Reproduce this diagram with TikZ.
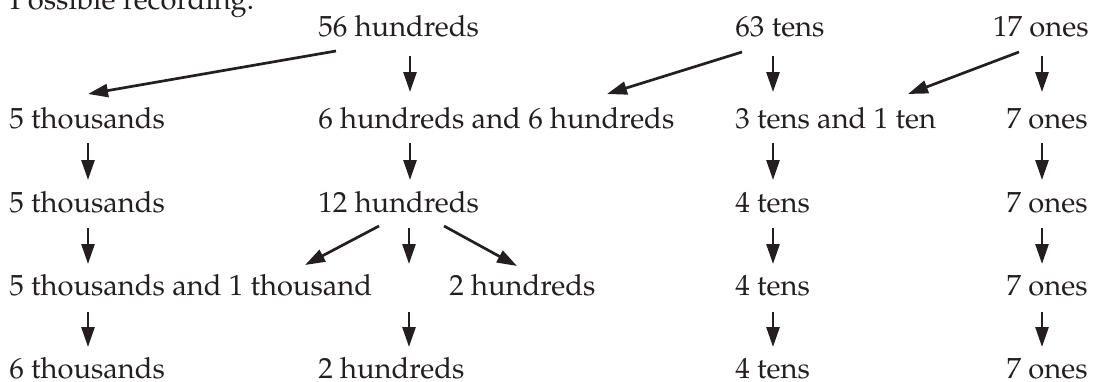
\documentclass[tikz,border=0pt]{standalone}
\usepackage[T1]{fontenc}
\renewcommand{\rmdefault}{ppl}
\usetikzlibrary{arrows.meta,calc}
\definecolor{ink}{RGB}{35,31,32}
\begin{document}
\begin{tikzpicture}[x=0.5pt,y=-0.5pt,
  lbl/.style={inner sep=0pt, text=ink, font=\fontsize{14.55pt}{17pt}\selectfont},
  arr/.style={draw=ink, line width=1.35pt, -{Triangle[length=10pt,width=6.5pt]}}]
\useasboundingbox (0,0) rectangle (1096,381);
% texts
\node[lbl,anchor=base west] (title) at (10,9) {Possible recording:};
\node[lbl,anchor=base west] (r0b) at (318,36) {56 hundreds};
\node[lbl,anchor=base west] (r0c) at (735,36) {63 tens};
\node[lbl,anchor=base east] (r0d) at (1089,36) {17 ones};
\node[lbl,anchor=base west] (r1a) at (9,128) {5 thousands};
\node[lbl,anchor=base west] (r1b) at (318,128) {6 hundreds and 6 hundreds};
\node[lbl,anchor=base west] (r1c) at (735,128) {3 tens and 1 ten};
\node[lbl,anchor=base east] (r1d) at (1088,128) {7 ones};
\node[lbl,anchor=base west] (r2a) at (9,212) {5 thousands};
\node[lbl,anchor=base west] (r2b) at (318,212) {12 hundreds};
\node[lbl,anchor=base west] (r2c) at (735,212) {4 tens};
\node[lbl,anchor=base east] (r2d) at (1088,212) {7 ones};
\node[lbl,anchor=base west] (r3a) at (9,295) {5 thousands and 1 thousand};
\coordinate (r3m) at (409,295);
\node[lbl,anchor=base west] (r3b) at (449,295) {2 hundreds};
\node[lbl,anchor=base west] (r3c) at (735,295) {4 tens};
\node[lbl,anchor=base east] (r3d) at (1088,295) {7 ones};
\node[lbl,anchor=base west] (r4a) at (9,378) {6 thousands};
\node[lbl,anchor=base west] (r4b) at (318,378) {2 hundreds};
\node[lbl,anchor=base west] (r4c) at (735,378) {4 tens};
\node[lbl,anchor=base east] (r4d) at (1088,378) {7 ones};
% row 0 -> row 1
\draw[arr] ($(r0b.base west)+(18,15)$) -- ($(r1a.base west)+(79,-34)$);
\draw[arr] ($(r0b.base west)+(92,20)$) -- ($(r1b.base west)+(92,-36)$);
\draw[arr] ($(r0c.base west)+(7,16)$) -- ($(r1b.base west)+(289,-34)$);
\draw[arr] ($(r0c.base west)+(38,20)$) -- ($(r1c.base west)+(38,-36)$);
\draw[arr] ($(r0d.base east)+(-70,16)$) -- ($(r1c.base west)+(173,-34)$);
\draw[arr] ($(r0d.base east)+(-47,20)$) -- ($(r1d.base east)+(-46,-36)$);
% row 1 -> row 2
\draw[arr] ($(r1a.base west)+(79,15)$) -- ($(r2a.base west)+(79,-32)$);
\draw[arr] ($(r1b.base west)+(92,15)$) -- ($(r2b.base west)+(92,-32)$);
\draw[arr] ($(r1c.base west)+(38,15)$) -- ($(r2c.base west)+(38,-32)$);
\draw[arr] ($(r1d.base east)+(-46,15)$) -- ($(r2d.base east)+(-46,-32)$);
% row 2 -> row 3
\draw[arr] ($(r2a.base west)+(79,16)$) -- ($(r3a.base west)+(79,-31)$);
\draw[arr] ($(r2b.base west)+(61,14)$) -- ($(r3a.base west)+(296,-30)$);
\draw[arr] ($(r2b.base west)+(91,16)$) -- ($(r3m)+(0,-31)$);
\draw[arr] ($(r2b.base west)+(126,14)$) -- ($(r3b.base west)+(68,-29)$);
\draw[arr] ($(r2c.base west)+(38,16)$) -- ($(r3c.base west)+(38,-31)$);
\draw[arr] ($(r2d.base east)+(-46,16)$) -- ($(r3d.base east)+(-46,-31)$);
% row 3 -> row 4
\draw[arr] ($(r3a.base west)+(79,17)$) -- ($(r4a.base west)+(79,-31)$);
\draw[arr] ($(r3m)+(0,17)$) -- ($(r4b.base west)+(91,-31)$);
\draw[arr] ($(r3c.base west)+(38,17)$) -- ($(r4c.base west)+(38,-31)$);
\draw[arr] ($(r3d.base east)+(-46,17)$) -- ($(r4d.base east)+(-46,-31)$);
\end{tikzpicture}
\end{document}
